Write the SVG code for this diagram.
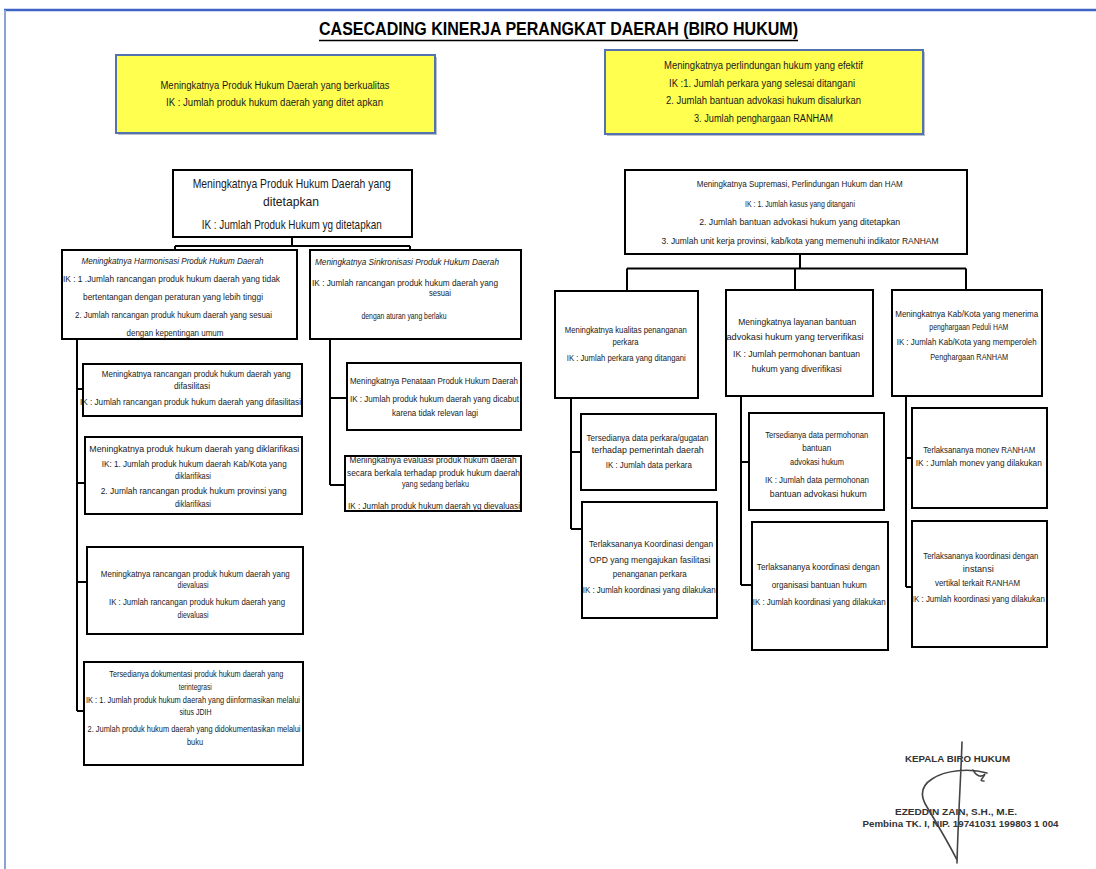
<svg xmlns="http://www.w3.org/2000/svg" width="1096" height="869" viewBox="0 0 1096 869">
<style>
.t{font-family:"Liberation Sans",Arial,sans-serif;font-size:9.5px;text-anchor:middle;fill:#1a1a1a}
.i{font-style:italic}
.y{font-size:10px}
.big{font-size:13px}
.box{fill:#fff;stroke:#000;stroke-width:2}
.ybox{fill:#ffff4f;stroke:#5273b0;stroke-width:2}
.shadow{fill:#8a93a6;opacity:0.6}
.conn{stroke:#000;stroke-width:2;fill:none}
.sig{font-family:"Liberation Sans",Arial,sans-serif;font-weight:bold;font-size:8.5px;text-anchor:middle;fill:#333}
</style>
<rect x="0" y="0" width="1096" height="869" fill="#fff"/>
<!-- page border -->
<line x1="4" y1="10" x2="1096" y2="10" stroke="#3d63c4" stroke-width="2.5"/>
<line x1="5" y1="10" x2="5" y2="869" stroke="#8aa2d4" stroke-width="2"/>
<!-- title -->
<g id="title">
<text x="558.5" y="35" font-family="'Liberation Sans',Arial,sans-serif" font-weight="bold" font-size="19" text-anchor="middle" textLength="479" lengthAdjust="spacingAndGlyphs" fill="#000">CASECADING KINERJA PERANGKAT DAERAH (BIRO HUKUM)</text>
<line x1="319" y1="40.5" x2="798" y2="40.5" stroke="#000" stroke-width="1.5"/>
</g>

<!-- connectors -->
<g id="connectors" class="conn">
<path d="M292,237 V246 M175,246 H410 M175,246 V250 M410,246 V250"/>
<path d="M77,339 V711 M77,389 H83 M77,483 H85 M77,582 H87 M77,711 H84"/>
<path d="M330,339 V485 M330,398 H347 M330,485 H345"/>
<path d="M800,254 V268.5 M627,268.5 H966 M627,268.5 V291 M795,268.5 V290 M966,268.5 V290"/>
<path d="M571,398 V529 M571,452 H581 M571,529 H582"/>
<path d="M741,396 V585 M741,462 H749 M741,585 H752"/>
<path d="M906,396 V587 M906,458 H912 M906,587 H912"/>
</g>

<!-- yellow goal boxes -->
<g id="goal-left">
<rect class="shadow" x="118" y="57" width="319" height="78"/>
<rect class="ybox" x="116" y="55" width="319" height="78"/>
<text class="t y" x="275" y="89" textLength="229" lengthAdjust="spacingAndGlyphs">Meningkatnya Produk Hukum Daerah yang berkualitas</text>
<text class="t y" x="274.5" y="106" textLength="217" lengthAdjust="spacingAndGlyphs">IK : Jumlah produk hukum daerah yang ditet apkan</text>
</g>
<g id="goal-right">
<rect class="shadow" x="607" y="52" width="318" height="84"/>
<rect class="ybox" x="605" y="50" width="318" height="84"/>
<text class="t y" x="763.5" y="69" textLength="199" lengthAdjust="spacingAndGlyphs">Meningkatnya perlindungan hukum yang efektif</text>
<text class="t y" x="762" y="86.5" textLength="186" lengthAdjust="spacingAndGlyphs">IK :1. Jumlah perkara yang selesai ditangani</text>
<text class="t y" x="763.5" y="104" textLength="195" lengthAdjust="spacingAndGlyphs">2. Jumlah bantuan advokasi hukum disalurkan</text>
<text class="t y" x="763.5" y="122" textLength="139" lengthAdjust="spacingAndGlyphs">3. Jumlah penghargaan RANHAM</text>
</g>

<!-- left tree -->
<g id="L0">
<rect class="box" x="173" y="170" width="239" height="67"/>
<text class="t big" x="291.7" y="188" textLength="198" lengthAdjust="spacingAndGlyphs">Meningkatnya Produk Hukum Daerah yang</text>
<text class="t big" x="291" y="206" textLength="56" lengthAdjust="spacingAndGlyphs">ditetapkan</text>
<text class="t big" x="291.7" y="229" textLength="180" lengthAdjust="spacingAndGlyphs">IK : Jumlah Produk Hukum yg ditetapkan</text>
</g>
<g id="L1a">
<rect class="box" x="62" y="250" width="235" height="89"/>
<text class="t i" x="172.5" y="264" textLength="182" lengthAdjust="spacingAndGlyphs">Meningkatnya Harmonisasi Produk Hukum Daerah</text>
<text class="t" x="171.5" y="282" textLength="217" lengthAdjust="spacingAndGlyphs">IK : 1 .Jumlah rancangan produk  hukum daerah yang tidak</text>
<text class="t" x="173" y="300" textLength="180" lengthAdjust="spacingAndGlyphs">bertentangan dengan peraturan yang lebih tinggi</text>
<text class="t" x="173.5" y="318" textLength="197" lengthAdjust="spacingAndGlyphs">2. Jumlah rancangan produk  hukum daerah yang sesuai</text>
<text class="t" x="175" y="336" textLength="97" lengthAdjust="spacingAndGlyphs">dengan kepentingan umum</text>
</g>
<g id="L1b">
<rect class="box" x="310" y="250" width="211" height="89"/>
<text class="t i" x="407" y="265" textLength="184" lengthAdjust="spacingAndGlyphs">Meningkatnya Sinkronisasi Produk Hukum Daerah</text>
<text class="t" x="405" y="286" textLength="186" lengthAdjust="spacingAndGlyphs">IK : Jumlah rancangan produk hukum daerah yang</text>
<text class="t" x="440" y="296" textLength="22" lengthAdjust="spacingAndGlyphs">sesuai</text>
<text class="t" x="404" y="319" textLength="85" lengthAdjust="spacingAndGlyphs">dengan aturan yang berlaku</text>
</g>
<g id="F1">
<rect class="box" x="83" y="364" width="219" height="52"/>
<text class="t" x="196.3" y="377.3" textLength="189" lengthAdjust="spacingAndGlyphs">Meningkatnya rancangan produk hukum daerah yang</text>
<text class="t" x="192" y="388.7" textLength="36" lengthAdjust="spacingAndGlyphs">difasilitasi</text>
<text class="t" x="190.5" y="405" textLength="221" lengthAdjust="spacingAndGlyphs">IK : Jumlah rancangan produk hukum daerah yang difasilitasi</text>
</g>
<g id="F2">
<rect class="box" x="85" y="437" width="217" height="77"/>
<text class="t" x="194.3" y="451.7" textLength="210" lengthAdjust="spacingAndGlyphs">Meningkatnya produk hukum daerah yang diklarifikasi</text>
<text class="t" x="194.2" y="467.3" textLength="185" lengthAdjust="spacingAndGlyphs">IK:  1. Jumlah produk hukum daerah Kab/Kota yang</text>
<text class="t" x="193" y="479.3" textLength="36" lengthAdjust="spacingAndGlyphs">diklarifikasi</text>
<text class="t" x="193.7" y="494.3" textLength="186" lengthAdjust="spacingAndGlyphs">2. Jumlah rancangan produk hukum provinsi yang</text>
<text class="t" x="193" y="506.7" textLength="36" lengthAdjust="spacingAndGlyphs">diklarifikasi</text>
</g>
<g id="F3">
<rect class="box" x="87" y="547" width="216" height="87"/>
<text class="t" x="195.3" y="577" textLength="189" lengthAdjust="spacingAndGlyphs">Meningkatnya rancangan produk hukum daerah yang</text>
<text class="t" x="193" y="588.3" textLength="31" lengthAdjust="spacingAndGlyphs">dievaluasi</text>
<text class="t" x="197" y="605" textLength="176" lengthAdjust="spacingAndGlyphs">IK : Jumlah rancangan produk hukum daerah yang</text>
<text class="t" x="193" y="618.3" textLength="31" lengthAdjust="spacingAndGlyphs">dievaluasi</text>
</g>
<g id="D">
<rect class="box" x="84" y="662" width="219" height="103"/>
<text class="t" x="196.3" y="676.7" textLength="174" lengthAdjust="spacingAndGlyphs">Tersedianya dokumentasi produk hukum daerah yang</text>
<text class="t" x="195.3" y="690" textLength="33" lengthAdjust="spacingAndGlyphs">terintegrasi</text>
<text class="t" x="193" y="703.3" textLength="214" lengthAdjust="spacingAndGlyphs">IK : 1. Jumlah produk hukum  daerah yang diinformasikan  melalui</text>
<text class="t" x="195.5" y="715" textLength="32" lengthAdjust="spacingAndGlyphs">situs JDIH</text>
<text class="t" x="194" y="731.7" textLength="213" lengthAdjust="spacingAndGlyphs">2. Jumlah produk hukum  daerah yang didokumentasikan  melalui</text>
<text class="t" x="195" y="745" textLength="16" lengthAdjust="spacingAndGlyphs">buku</text>
</g>
<g id="P1">
<rect class="box" x="347" y="363" width="174" height="67"/>
<text class="t" x="434" y="384" textLength="168" lengthAdjust="spacingAndGlyphs">Meningkatnya Penataan Produk  Hukum Daerah</text>
<text class="t" x="434.5" y="401.7" textLength="169" lengthAdjust="spacingAndGlyphs">IK : Jumlah produk hukum daerah yang dicabut</text>
<text class="t" x="435" y="415.7" textLength="86" lengthAdjust="spacingAndGlyphs">karena tidak relevan lagi</text>
</g>
<g id="P2">
<rect class="box" x="345" y="456" width="176" height="55"/>
<text class="t" x="433" y="463.3" textLength="167" lengthAdjust="spacingAndGlyphs">Meningkatnya evaluasi produk hukum daerah</text>
<text class="t" x="433.5" y="476" textLength="173" lengthAdjust="spacingAndGlyphs">secara berkala  terhadap produk  hukum daerah</text>
<text class="t" x="435.5" y="487.3" textLength="67" lengthAdjust="spacingAndGlyphs">yang sedang berlaku</text>
<text class="t" x="434" y="509" textLength="172" lengthAdjust="spacingAndGlyphs">IK : Jumlah produk hukum  daerah yg dievaluasi</text>
</g>

<!-- right tree -->
<g id="R0">
<rect class="box" x="625" y="170" width="342" height="84"/>
<text class="t" x="799.7" y="186.7" textLength="206" lengthAdjust="spacingAndGlyphs">Meningkatnya Supremasi, Perlindungan Hukum dan HAM</text>
<text class="t" x="800" y="206.7" textLength="110" lengthAdjust="spacingAndGlyphs">IK : 1. Jumlah kasus yang ditangani</text>
<text class="t" x="799.7" y="225" textLength="201" lengthAdjust="spacingAndGlyphs">2. Jumlah bantuan advokasi hukum  yang ditetapkan</text>
<text class="t" x="800" y="244" textLength="277" lengthAdjust="spacingAndGlyphs">3. Jumlah unit kerja provinsi, kab/kota yang memenuhi  indikator RANHAM</text>
</g>
<g id="K1">
<rect class="box" x="555" y="291" width="143" height="107"/>
<text class="t" x="625.8" y="332.7" textLength="122" lengthAdjust="spacingAndGlyphs">Meningkatnya kualitas penanganan</text>
<text class="t" x="625.5" y="345" textLength="26" lengthAdjust="spacingAndGlyphs">perkara</text>
<text class="t" x="626.3" y="360.7" textLength="119" lengthAdjust="spacingAndGlyphs">IK : Jumlah perkara yang ditangani</text>
</g>
<g id="K1a">
<rect class="box" x="581" y="414" width="135" height="76"/>
<text class="t" x="647.5" y="441" textLength="122" lengthAdjust="spacingAndGlyphs">Tersedianya data perkara/gugatan</text>
<text class="t" x="647.8" y="453.3" textLength="112" lengthAdjust="spacingAndGlyphs">terhadap pemerintah daerah</text>
<text class="t" x="648.8" y="468.3" textLength="86" lengthAdjust="spacingAndGlyphs">IK : Jumlah data perkara</text>
</g>
<g id="K1b">
<rect class="box" x="582" y="502" width="135" height="116"/>
<text class="t" x="651" y="546.7" textLength="124" lengthAdjust="spacingAndGlyphs">Terlaksananya Koordinasi dengan</text>
<text class="t" x="649.8" y="562.7" textLength="121" lengthAdjust="spacingAndGlyphs">OPD yang  mengajukan fasilitasi</text>
<text class="t" x="649.8" y="576.7" textLength="74" lengthAdjust="spacingAndGlyphs">penanganan perkara</text>
<text class="t" x="649.2" y="593.3" textLength="133" lengthAdjust="spacingAndGlyphs">IK : Jumlah koordinasi yang dilakukan</text>
</g>
<g id="K2">
<rect class="box" x="726" y="290" width="147" height="106"/>
<text class="t" x="797.3" y="325" textLength="118" lengthAdjust="spacingAndGlyphs">Meningkatnya layanan bantuan</text>
<text class="t" x="795" y="340" textLength="137" lengthAdjust="spacingAndGlyphs">advokasi  hukum yang terverifikasi</text>
<text class="t" x="796.5" y="356.7" textLength="127" lengthAdjust="spacingAndGlyphs">IK : Jumlah permohonan  bantuan</text>
<text class="t" x="796.7" y="371.7" textLength="90" lengthAdjust="spacingAndGlyphs">hukum yang diverifikasi</text>
</g>
<g id="K2a">
<rect class="box" x="749" y="413" width="135" height="97"/>
<text class="t" x="816.7" y="438.3" textLength="103" lengthAdjust="spacingAndGlyphs">Tersedianya data permohonan</text>
<text class="t" x="816.7" y="450.7" textLength="29" lengthAdjust="spacingAndGlyphs">bantuan</text>
<text class="t" x="817" y="465" textLength="54" lengthAdjust="spacingAndGlyphs">advokasi  hukum</text>
<text class="t" x="817" y="482.7" textLength="104" lengthAdjust="spacingAndGlyphs">IK : Jumlah data permohonan</text>
<text class="t" x="818.3" y="496.7" textLength="97" lengthAdjust="spacingAndGlyphs">bantuan advokasi hukum</text>
</g>
<g id="K2b">
<rect class="box" x="752" y="522" width="136" height="128"/>
<text class="t" x="818.3" y="570" textLength="123" lengthAdjust="spacingAndGlyphs">Terlaksananya koordinasi dengan</text>
<text class="t" x="819.2" y="588.3" textLength="95" lengthAdjust="spacingAndGlyphs">organisasi bantuan hukum</text>
<text class="t" x="819.2" y="605" textLength="133" lengthAdjust="spacingAndGlyphs">IK : Jumlah koordinasi yang dilakukan</text>
</g>
<g id="K3">
<rect class="box" x="892" y="290" width="150" height="106"/>
<text class="t" x="966.7" y="317.3" textLength="143" lengthAdjust="spacingAndGlyphs">Meningkatnya Kab/Kota yang menerima</text>
<text class="t" x="968.8" y="330" textLength="79" lengthAdjust="spacingAndGlyphs">penghargaan Peduli HAM</text>
<text class="t" x="966.7" y="345" textLength="140" lengthAdjust="spacingAndGlyphs">IK : Jumlah Kab/Kota yang memperoleh</text>
<text class="t" x="969.2" y="360" textLength="78" lengthAdjust="spacingAndGlyphs">Penghargaan  RANHAM</text>
</g>
<g id="K3a">
<rect class="box" x="912" y="408" width="135" height="100"/>
<text class="t" x="979.2" y="452.7" textLength="112" lengthAdjust="spacingAndGlyphs">Terlaksananya monev RANHAM</text>
<text class="t" x="978.8" y="466" textLength="126" lengthAdjust="spacingAndGlyphs">IK : Jumlah monev yang  dilakukan</text>
</g>
<g id="K3b">
<rect class="box" x="912" y="521" width="135" height="126"/>
<text class="t" x="980.8" y="559.3" textLength="115" lengthAdjust="spacingAndGlyphs">Terlaksananya koordinasi  dengan</text>
<text class="t" x="978.3" y="571.7" textLength="31" lengthAdjust="spacingAndGlyphs">instansi</text>
<text class="t" x="977.5" y="586" textLength="85" lengthAdjust="spacingAndGlyphs">vertikal terkait RANHAM</text>
<text class="t" x="978.3" y="601.7" textLength="133" lengthAdjust="spacingAndGlyphs">IK : Jumlah koordinasi yang dilakukan</text>
</g>

<!-- signature block -->
<g id="signature">
<text class="sig" x="957.5" y="762" textLength="105" lengthAdjust="spacingAndGlyphs">KEPALA BIRO HUKUM</text>
<text class="sig" x="956" y="815" textLength="122" lengthAdjust="spacingAndGlyphs">EZEDDIN ZAIN, S.H., M.E.</text>
<text class="sig" x="960.5" y="827" textLength="196" lengthAdjust="spacingAndGlyphs">Pembina TK. I, NIP. 19741031 199803 1 004</text>
<path d="M962,742 C961,775 958,820 957,863 M987,773 C970,768 945,770 932,779 C921,786 920,796 927,807 C936,822 948,842 957,860 M973,770 C976,776 981,778 985,774 C983,779 978,781 984,781" fill="none" stroke="#444" stroke-width="1.6" stroke-linecap="round"/>
</g>
</svg>
